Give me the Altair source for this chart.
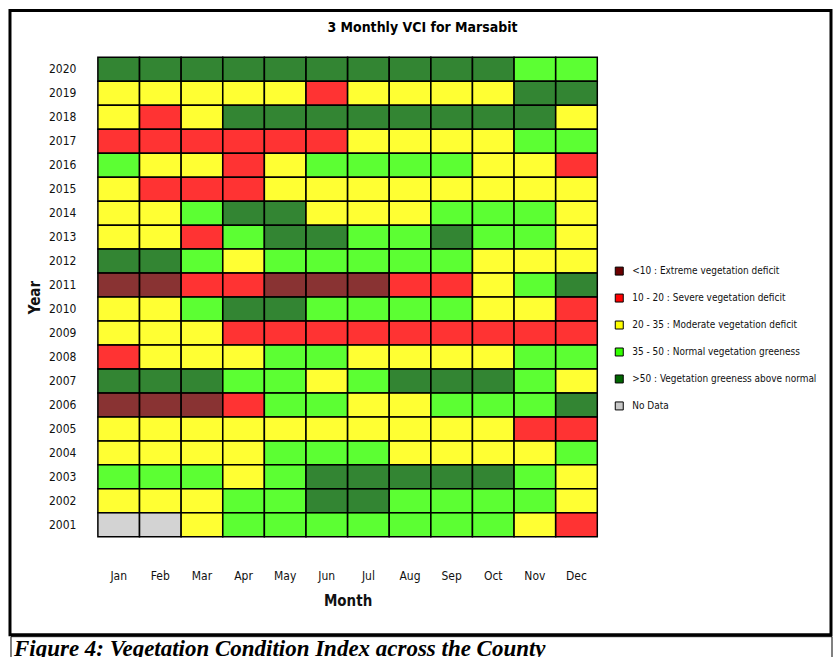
import altair as alt
import pandas as pd

months = ["Jan", "Feb", "Mar", "Apr", "May", "Jun",
          "Jul", "Aug", "Sep", "Oct", "Nov", "Dec"]
years = list(range(2020, 2000, -1))

# VCI class of each month, one string per year from 2020 down to 2001
# E: <10, S: 10-20, M: 20-35, N: 35-50, A: >50, X: no data
vci_rows = [
    "AAAAAAAAAANN",  # 2020
    "MMMMMSMMMMAA",  # 2019
    "MSMAAAAAAAAM",  # 2018
    "SSSSSSMMMMNN",  # 2017
    "NMMSMNNNNMMS",  # 2016
    "MSSSMMMMMMMM",  # 2015
    "MMNAAMMMNNNM",  # 2014
    "MMSNAANNANNM",  # 2013
    "AANMNNNNNMMM",  # 2012
    "EESSEEESSMNA",  # 2011
    "MMNAANNNNMMS",  # 2010
    "MMMSSSSSSSSS",  # 2009
    "SMMMNNMMMMNN",  # 2008
    "AAANNMNAAANM",  # 2007
    "EEESNNMMNNNA",  # 2006
    "MMMMMMMMMMSS",  # 2005
    "MMMMNNNMMMMN",  # 2004
    "NNNMNAAAAANM",  # 2003
    "MMMNNAANNNNM",  # 2002
    "XXMNNNNNNNMS",  # 2001
]

class_codes = ["E", "S", "M", "N", "A", "X"]
class_labels = [
    "<10 : Extreme vegetation deficit",
    "10 - 20 : Severe vegetation deficit",
    "20 - 35 : Moderate vegetation deficit",
    "35 - 50 : Normal vegetation greeness",
    ">50 : Vegetation greeness above normal",
    "No Data",
]
class_colors = ["#6B0000", "#FF0000", "#FFFF00", "#33FF00", "#006600", "#C8C8C8"]

code_to_label = dict(zip(class_codes, class_labels))
records = []
for year, row in zip(years, vci_rows):
    for month, code in zip(months, row):
        records.append({"Year": str(year), "Month": month, "VCI": code_to_label[code]})
df = pd.DataFrame(records)

FONT = "'DejaVu Sans Condensed', 'Liberation Sans Narrow', 'Liberation Sans', sans-serif"

heat = alt.Chart(df).mark_rect(
    stroke="black", strokeWidth=1.5, fillOpacity=0.8
).encode(
    x=alt.X("Month:N", sort=months, scale=alt.Scale(paddingInner=0, paddingOuter=0),
            axis=alt.Axis(title="Month", labelAngle=0, labelPadding=34,
                          titlePadding=12, domain=False, ticks=False)),
    y=alt.Y("Year:N", sort=[str(y) for y in years],
            scale=alt.Scale(paddingInner=0, paddingOuter=0),
            axis=alt.Axis(title="Year", labelPadding=22, titlePadding=6,
                          domain=False, ticks=False)),
    color=alt.Color("VCI:N", scale=alt.Scale(domain=class_labels, range=class_colors),
                    legend=alt.Legend(title=None, orient="none", legendX=517, legendY=209,
                                      symbolType="square", symbolSize=64,
                                      symbolStrokeColor="black", symbolStrokeWidth=1,
                                      symbolOpacity=1, rowPadding=15, labelOffset=8,
                                      labelFontSize=10, labelFont=FONT, labelColor="#111",
                                      labelLimit=300, padding=0)),
)

one = pd.DataFrame({"k": [0]})

# page frame around the chart and the caption box below it
frame = alt.Chart(one).mark_rect(fillOpacity=0, stroke="black", strokeWidth=3).encode(
    x=alt.value(-88), x2=alt.value(734), y=alt.value(-47), y2=alt.value(578)
)
caption_box = alt.Chart(one).mark_rect(fillOpacity=0, stroke="black", strokeWidth=1).encode(
    x=alt.value(-87), x2=alt.value(735), y=alt.value(580), y2=alt.value(640)
)
title = alt.Chart(one).mark_text(
    font=FONT, fontSize=14, fontWeight="bold", baseline="middle", align="center"
).encode(x=alt.value(325), y=alt.value(-29), text=alt.value("3 Monthly VCI for Marsabit"))
caption = alt.Chart(one).mark_text(
    font="Liberation Serif", fontSize=23, fontWeight="bold", fontStyle="italic",
    baseline="alphabetic", align="left"
).encode(x=alt.value(-84), y=alt.value(599),
         text=alt.value("Figure 4: Vegetation Condition Index across the County"))

chart = alt.layer(frame, caption_box, title, caption, heat).properties(
    width=500, height=480,
    padding={"left": 8, "top": 8, "right": 2, "bottom": 2},
).configure_view(
    stroke=None
).configure_axis(
    labelFont=FONT, labelFontSize=12, labelColor="#111",
    titleFont=FONT, titleFontSize=15, titleFontWeight="bold", titleColor="#111",
    grid=False,
)

chart.save("out.html", embed_options={"renderer": "svg", "actions": False})
